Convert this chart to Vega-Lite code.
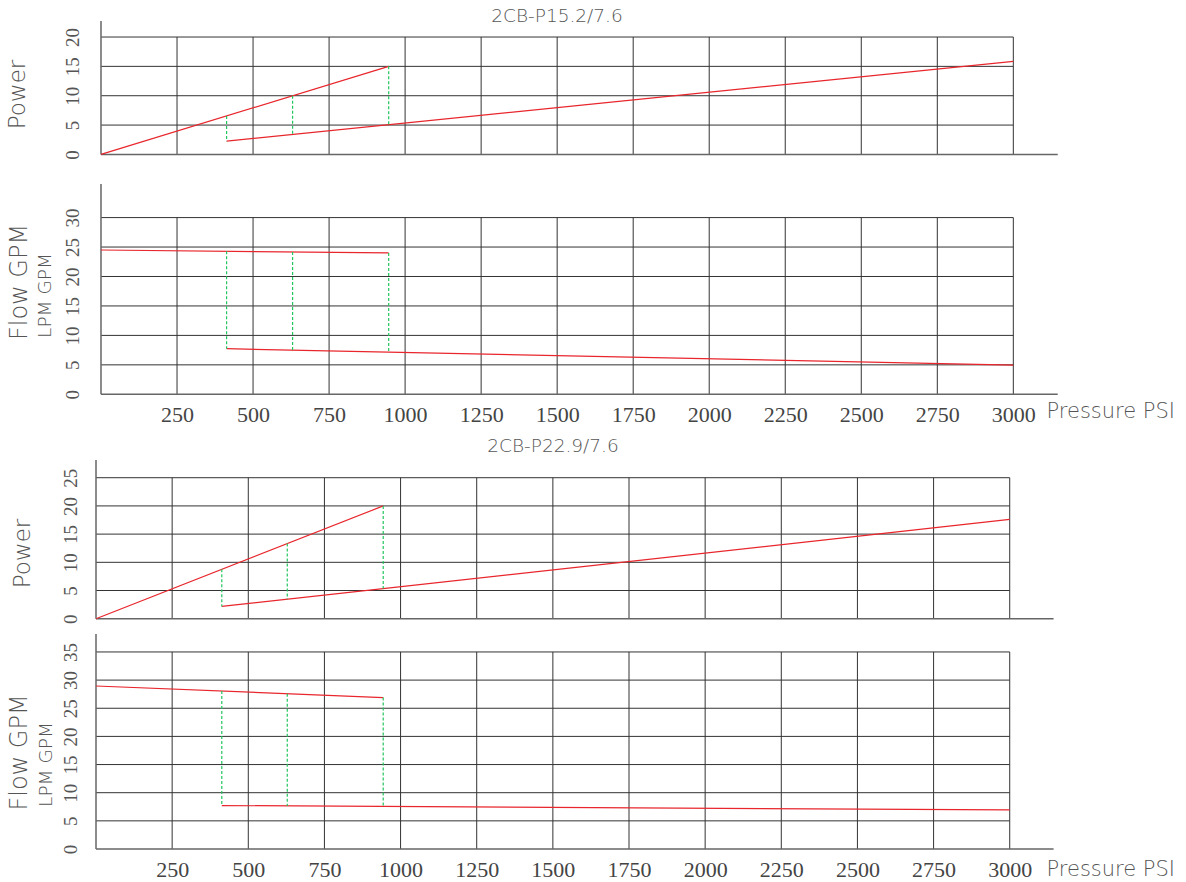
{
  "$schema": "https://vega.github.io/schema/vega-lite/v6.json",
  "background": "white",
  "padding": {"left": 6, "top": 6, "right": 5, "bottom": 5},
  "bounds": "flush",
  "spacing": 0,
  "config": {"view": {"stroke": null}, "font": "DejaVu Sans", "axis": {"labelOverlap": false, "labelFlush": false, "tickCount": 30}},
  "datasets": {
    "curves": [
      {"p": "P1", "s": "u", "x": 0, "y": 0}, {"p": "P1", "s": "u", "x": 946, "y": 15},
      {"p": "P1", "s": "l", "x": 413, "y": 2.26}, {"p": "P1", "s": "l", "x": 3000, "y": 15.84},
      {"p": "P2", "s": "u", "x": 0, "y": 24.5}, {"p": "P2", "s": "u", "x": 946, "y": 24.0},
      {"p": "P2", "s": "l", "x": 413, "y": 7.74}, {"p": "P2", "s": "l", "x": 3000, "y": 4.97},
      {"p": "P3", "s": "u", "x": 0, "y": 0}, {"p": "P3", "s": "u", "x": 943, "y": 20},
      {"p": "P3", "s": "l", "x": 413, "y": 2.18}, {"p": "P3", "s": "l", "x": 3000, "y": 17.6},
      {"p": "P4", "s": "u", "x": 0, "y": 28.95}, {"p": "P4", "s": "u", "x": 943, "y": 26.9},
      {"p": "P4", "s": "l", "x": 413, "y": 7.72}, {"p": "P4", "s": "l", "x": 3000, "y": 6.94}
    ],
    "drops": [
      {"p": "P1", "x": 413, "y": 6.55, "y2": 2.26}, {"p": "P1", "x": 630, "y": 10.0, "y2": 3.4}, {"p": "P1", "x": 946, "y": 15.0, "y2": 5.05},
      {"p": "P2", "x": 413, "y": 24.28, "y2": 7.74}, {"p": "P2", "x": 630, "y": 24.17, "y2": 7.51}, {"p": "P2", "x": 946, "y": 24.0, "y2": 7.17},
      {"p": "P3", "x": 413, "y": 8.76, "y2": 2.18}, {"p": "P3", "x": 628, "y": 13.32, "y2": 3.46}, {"p": "P3", "x": 943, "y": 20.0, "y2": 5.34},
      {"p": "P4", "x": 413, "y": 28.05, "y2": 7.72}, {"p": "P4", "x": 628, "y": 27.58, "y2": 7.66}, {"p": "P4", "x": 943, "y": 26.9, "y2": 7.56}
    ],
    "yticks": [
      {"p": "P1", "y": 5}, {"p": "P1", "y": 10}, {"p": "P1", "y": 15}, {"p": "P1", "y": 20},
      {"p": "P2", "y": 5}, {"p": "P2", "y": 10}, {"p": "P2", "y": 15}, {"p": "P2", "y": 20}, {"p": "P2", "y": 25}, {"p": "P2", "y": 30},
      {"p": "P3", "y": 5}, {"p": "P3", "y": 10}, {"p": "P3", "y": 15}, {"p": "P3", "y": 20}, {"p": "P3", "y": 25},
      {"p": "P4", "y": 5}, {"p": "P4", "y": 10}, {"p": "P4", "y": 15}, {"p": "P4", "y": 20}, {"p": "P4", "y": 25}, {"p": "P4", "y": 30}, {"p": "P4", "y": 35}
    ],
    "xticks": [
      {"x": 250}, {"x": 500}, {"x": 750}, {"x": 1000}, {"x": 1250}, {"x": 1500},
      {"x": 1750}, {"x": 2000}, {"x": 2250}, {"x": 2500}, {"x": 2750}, {"x": 3000}
    ],
    "one": [{"k": 1}]
  },
  "vconcat": [
    {
      "width": 962, "height": 163,
      "title": {"text": "2CB-P15.2/7.6", "orient": "top", "anchor": "middle", "frame": "group", "dx": -20, "offset": -20, "baseline": "alphabetic", "font": "DejaVu Sans", "fontSize": 18.5, "fontWeight": 200, "color": "#555"},
      "layer": [
        {
          "data": {"name": "yticks"}, "transform": [{"filter": "datum.p == 'P1'"}],
          "mark": {"type": "rule", "color": "#333", "strokeWidth": 1},
          "encoding": {
            "y": {"field": "y", "type": "quantitative", "scale": {"domain": [-5.04, 22.73], "nice": false, "zero": false},
              "axis": {"values": [0, 5, 10, 15, 20], "tickCount": 30, "domain": false, "ticks": false, "grid": false, "labelAngle": 270, "labelAlign": "center", "labelBaseline": "bottom", "labelPadding": 14, "labelFont": "Liberation Serif", "labelFontSize": 19, "labelColor": "#555", "labelOverlap": false, "labelFlush": false,
                "title": "Power", "titleFont": "DejaVu Sans", "titleFontSize": 23, "titleFontWeight": 200, "titleColor": "#555", "titleAngle": 270, "titleAlign": "center", "titleBaseline": "middle", "titleX": -79, "titleY": 73}},
            "x": {"datum": 0, "type": "quantitative", "scale": {"domain": [-16.44, 3146.9], "nice": false, "zero": false},
              "axis": {"labels": false, "domain": false, "ticks": false, "grid": false, "title": null}},
            "x2": {"datum": 3000}
          }
        },
        {
          "data": {"name": "xticks"},
          "mark": {"type": "rule", "color": "#333", "strokeWidth": 1},
          "encoding": {
            "x": {"field": "x", "type": "quantitative"},
            "y": {"datum": 0, "type": "quantitative"},
            "y2": {"datum": 20}
          }
        },
        {
          "data": {"name": "one"},
          "mark": {"type": "rule", "color": "#666", "strokeWidth": 1.5},
          "encoding": {
            "x": {"datum": 0, "type": "quantitative"},
            "y": {"datum": 0, "type": "quantitative"},
            "y2": {"datum": 22.73}
          }
        },
        {
          "data": {"name": "one"},
          "mark": {"type": "rule", "color": "#666", "strokeWidth": 1.5},
          "encoding": {
            "x": {"datum": 0, "type": "quantitative"},
            "x2": {"datum": 3146},
            "y": {"datum": 0, "type": "quantitative"}
          }
        },
        {
          "data": {"name": "curves"}, "transform": [{"filter": "datum.p == 'P1'"}],
          "mark": {"type": "line", "color": "#e8262c", "strokeWidth": 1.2},
          "encoding": {
            "x": {"field": "x", "type": "quantitative"},
            "y": {"field": "y", "type": "quantitative"},
            "detail": {"field": "s"}
          }
        },
        {
          "data": {"name": "drops"}, "transform": [{"filter": "datum.p == 'P1'"}],
          "mark": {"type": "rule", "color": "#22c55e", "strokeWidth": 1.2, "strokeDash": [3, 2]},
          "encoding": {
            "x": {"field": "x", "type": "quantitative"},
            "y": {"field": "y", "type": "quantitative"},
            "y2": {"field": "y2"}
          }
        }
      ]
    },
    {
      "width": 962, "height": 276,
      "title": {"text": "Flow GPM", "orient": "left", "anchor": "middle", "frame": "group", "dx": 40, "offset": 4, "font": "DejaVu Sans", "fontSize": 24, "fontWeight": 200, "color": "#555"},
      "layer": [
        {
          "data": {"name": "yticks"}, "transform": [{"filter": "datum.p == 'P2'"}],
          "mark": {"type": "rule", "color": "#333", "strokeWidth": 1},
          "encoding": {
            "y": {"field": "y", "type": "quantitative", "scale": {"domain": [-11.15, 35.7], "nice": false, "zero": false},
              "axis": {"values": [0, 5, 10, 15, 20, 25, 30], "tickCount": 30, "domain": false, "ticks": false, "grid": false, "labelAngle": 270, "labelAlign": "center", "labelBaseline": "bottom", "labelPadding": 14, "labelFont": "Liberation Serif", "labelFontSize": 19, "labelColor": "#555", "labelOverlap": false, "labelFlush": false,
                "title": "LPM GPM", "titleFont": "DejaVu Sans", "titleFontSize": 18.5, "titleFontWeight": 200, "titleColor": "#555", "titleAngle": 270, "titleAlign": "center", "titleBaseline": "middle", "titleX": -51.5, "titleY": 111}},
            "x": {"datum": 0, "type": "quantitative", "scale": {"domain": [-16.44, 3146.9], "nice": false, "zero": false},
              "axis": {"values": [250, 500, 750, 1000, 1250, 1500, 1750, 2000, 2250, 2500, 2750, 3000], "tickCount": 30, "format": "d", "offset": -66, "domain": false, "ticks": false, "grid": false, "labelFont": "Liberation Serif", "labelFontSize": 22, "labelColor": "#444", "labelBaseline": "top", "labelPadding": 10, "labelDx": -4, "labelOverlap": false, "labelFlush": false,
                "title": "Pressure PSI", "titleFont": "DejaVu Sans", "titleFontSize": 21, "titleFontWeight": 200, "titleColor": "#555", "titleAlign": "left", "titleBaseline": "alphabetic", "titleX": 950, "titleY": 23}},
            "x2": {"datum": 3000}
          }
        },
        {
          "data": {"name": "xticks"},
          "mark": {"type": "rule", "color": "#333", "strokeWidth": 1},
          "encoding": {
            "x": {"field": "x", "type": "quantitative"},
            "y": {"datum": 0, "type": "quantitative"},
            "y2": {"datum": 30}
          }
        },
        {
          "data": {"name": "one"},
          "mark": {"type": "rule", "color": "#666", "strokeWidth": 1.5},
          "encoding": {
            "x": {"datum": 0, "type": "quantitative"},
            "y": {"datum": 0, "type": "quantitative"},
            "y2": {"datum": 35.7}
          }
        },
        {
          "data": {"name": "one"},
          "mark": {"type": "rule", "color": "#666", "strokeWidth": 1.5},
          "encoding": {
            "x": {"datum": 0, "type": "quantitative"},
            "x2": {"datum": 3146},
            "y": {"datum": 0, "type": "quantitative"}
          }
        },
        {
          "data": {"name": "curves"}, "transform": [{"filter": "datum.p == 'P2'"}],
          "mark": {"type": "line", "color": "#e8262c", "strokeWidth": 1.2},
          "encoding": {
            "x": {"field": "x", "type": "quantitative"},
            "y": {"field": "y", "type": "quantitative"},
            "detail": {"field": "s"}
          }
        },
        {
          "data": {"name": "drops"}, "transform": [{"filter": "datum.p == 'P2'"}],
          "mark": {"type": "rule", "color": "#22c55e", "strokeWidth": 1.2, "strokeDash": [3, 2]},
          "encoding": {
            "x": {"field": "x", "type": "quantitative"},
            "y": {"field": "y", "type": "quantitative"},
            "y2": {"field": "y2"}
          }
        }
      ]
    },
    {
      "width": 962, "height": 174,
      "title": {"text": "2CB-P22.9/7.6", "orient": "top", "anchor": "middle", "frame": "group", "dx": -24, "offset": -11, "baseline": "alphabetic", "font": "DejaVu Sans", "fontSize": 18.5, "fontWeight": 200, "color": "#555"},
      "layer": [
        {
          "data": {"name": "yticks"}, "transform": [{"filter": "datum.p == 'P3'"}],
          "mark": {"type": "rule", "color": "#333", "strokeWidth": 1},
          "encoding": {
            "y": {"field": "y", "type": "quantitative", "scale": {"domain": [-2.71, 28.14], "nice": false, "zero": false},
              "axis": {"values": [0, 5, 10, 15, 20, 25], "tickCount": 30, "domain": false, "ticks": false, "grid": false, "labelAngle": 270, "labelAlign": "center", "labelBaseline": "bottom", "labelPadding": 16, "labelFont": "Liberation Serif", "labelFontSize": 19, "labelColor": "#555", "labelOverlap": false, "labelFlush": false,
                "title": "Power", "titleFont": "DejaVu Sans", "titleFontSize": 23, "titleFontWeight": 200, "titleColor": "#555", "titleAngle": 270, "titleAlign": "center", "titleBaseline": "middle", "titleX": -74, "titleY": 93}},
            "x": {"datum": 0, "type": "quantitative", "scale": {"domain": [0, 3158.5], "nice": false, "zero": false},
              "axis": {"labels": false, "domain": false, "ticks": false, "grid": false, "title": null}},
            "x2": {"datum": 3000}
          }
        },
        {
          "data": {"name": "xticks"},
          "mark": {"type": "rule", "color": "#333", "strokeWidth": 1},
          "encoding": {
            "x": {"field": "x", "type": "quantitative"},
            "y": {"datum": 0, "type": "quantitative"},
            "y2": {"datum": 25}
          }
        },
        {
          "data": {"name": "one"},
          "mark": {"type": "rule", "color": "#666", "strokeWidth": 1.5},
          "encoding": {
            "x": {"datum": 0, "type": "quantitative"},
            "y": {"datum": 0, "type": "quantitative"},
            "y2": {"datum": 28.14}
          }
        },
        {
          "data": {"name": "one"},
          "mark": {"type": "rule", "color": "#666", "strokeWidth": 1.5},
          "encoding": {
            "x": {"datum": 0, "type": "quantitative"},
            "x2": {"datum": 3144},
            "y": {"datum": 0, "type": "quantitative"}
          }
        },
        {
          "data": {"name": "curves"}, "transform": [{"filter": "datum.p == 'P3'"}],
          "mark": {"type": "line", "color": "#e8262c", "strokeWidth": 1.2},
          "encoding": {
            "x": {"field": "x", "type": "quantitative"},
            "y": {"field": "y", "type": "quantitative"},
            "detail": {"field": "s"}
          }
        },
        {
          "data": {"name": "drops"}, "transform": [{"filter": "datum.p == 'P3'"}],
          "mark": {"type": "rule", "color": "#22c55e", "strokeWidth": 1.2, "strokeDash": [3, 2]},
          "encoding": {
            "x": {"field": "x", "type": "quantitative"},
            "y": {"field": "y", "type": "quantitative"},
            "y2": {"field": "y2"}
          }
        }
      ]
    },
    {
      "width": 962, "height": 215,
      "title": {"text": "Flow GPM", "orient": "left", "anchor": "middle", "frame": "group", "dx": -11, "offset": 4, "font": "DejaVu Sans", "fontSize": 24, "fontWeight": 200, "color": "#555"},
      "layer": [
        {
          "data": {"name": "yticks"}, "transform": [{"filter": "datum.p == 'P4'"}],
          "mark": {"type": "rule", "color": "#333", "strokeWidth": 1},
          "encoding": {
            "y": {"field": "y", "type": "quantitative", "scale": {"domain": [0, 38.19], "nice": false, "zero": false},
              "axis": {"values": [0, 5, 10, 15, 20, 25, 30, 35], "tickCount": 30, "domain": false, "ticks": false, "grid": false, "labelAngle": 270, "labelAlign": "center", "labelBaseline": "bottom", "labelPadding": 16, "labelFont": "Liberation Serif", "labelFontSize": 19, "labelColor": "#555", "labelOverlap": false, "labelFlush": false,
                "title": "LPM GPM", "titleFont": "DejaVu Sans", "titleFontSize": 18.5, "titleFontWeight": 200, "titleColor": "#555", "titleAngle": 270, "titleAlign": "center", "titleBaseline": "middle", "titleX": -51, "titleY": 130}},
            "x": {"datum": 0, "type": "quantitative", "scale": {"domain": [0, 3158.5], "nice": false, "zero": false},
              "axis": {"values": [250, 500, 750, 1000, 1250, 1500, 1750, 2000, 2250, 2500, 2750, 3000], "tickCount": 30, "format": "d", "offset": 0, "domain": false, "ticks": false, "grid": false, "labelFont": "Liberation Serif", "labelFontSize": 22, "labelColor": "#444", "labelBaseline": "top", "labelPadding": 10, "labelDx": -4, "labelOverlap": false, "labelFlush": false,
                "title": "Pressure PSI", "titleFont": "DejaVu Sans", "titleFontSize": 21, "titleFontWeight": 200, "titleColor": "#555", "titleAlign": "left", "titleBaseline": "alphabetic", "titleX": 950, "titleY": 26}},
            "x2": {"datum": 3000}
          }
        },
        {
          "data": {"name": "xticks"},
          "mark": {"type": "rule", "color": "#333", "strokeWidth": 1},
          "encoding": {
            "x": {"field": "x", "type": "quantitative"},
            "y": {"datum": 0, "type": "quantitative"},
            "y2": {"datum": 35}
          }
        },
        {
          "data": {"name": "one"},
          "mark": {"type": "rule", "color": "#666", "strokeWidth": 1.5},
          "encoding": {
            "x": {"datum": 0, "type": "quantitative"},
            "y": {"datum": 0, "type": "quantitative"},
            "y2": {"datum": 38.19}
          }
        },
        {
          "data": {"name": "one"},
          "mark": {"type": "rule", "color": "#666", "strokeWidth": 1.5},
          "encoding": {
            "x": {"datum": 0, "type": "quantitative"},
            "x2": {"datum": 3144},
            "y": {"datum": 0, "type": "quantitative"}
          }
        },
        {
          "data": {"name": "curves"}, "transform": [{"filter": "datum.p == 'P4'"}],
          "mark": {"type": "line", "color": "#e8262c", "strokeWidth": 1.2},
          "encoding": {
            "x": {"field": "x", "type": "quantitative"},
            "y": {"field": "y", "type": "quantitative"},
            "detail": {"field": "s"}
          }
        },
        {
          "data": {"name": "drops"}, "transform": [{"filter": "datum.p == 'P4'"}],
          "mark": {"type": "rule", "color": "#22c55e", "strokeWidth": 1.2, "strokeDash": [3, 2]},
          "encoding": {
            "x": {"field": "x", "type": "quantitative"},
            "y": {"field": "y", "type": "quantitative"},
            "y2": {"field": "y2"}
          }
        }
      ]
    }
  ]
}
